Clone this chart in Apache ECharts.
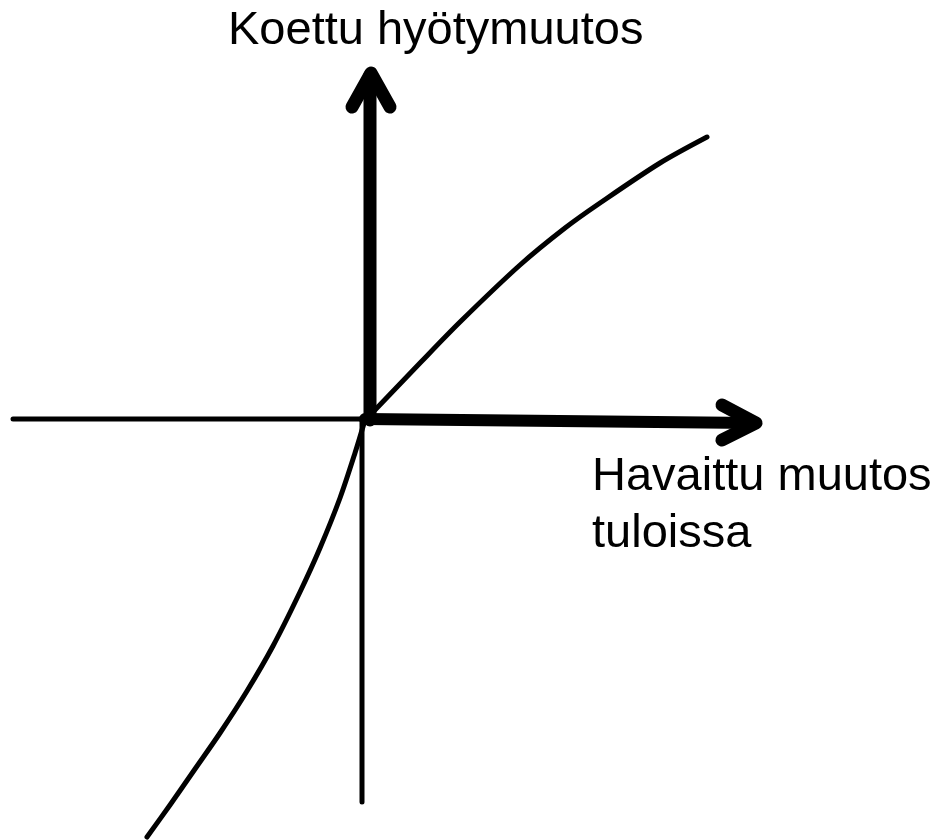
<!DOCTYPE html>
<html>
<head>
<meta charset="utf-8">
<script src="https://cdn.jsdelivr.net/npm/echarts@6/dist/echarts.min.js"></script>
<style>
  html, body { margin: 0; padding: 0; background: #fff; }
  #chart { width: 938px; height: 840px; }
</style>
</head>
<body>
<div id="chart"></div>
<script>
// curve (origin = where the axes cross)
var lossX = [-2.18, -1.95, -1.70, -1.45, -1.18, -0.92, -0.65, -0.45, -0.25, -0.10, 0];
var lossY = [-4.17, -3.85, -3.49, -3.13, -2.71, -2.26, -1.72, -1.28, -0.78, -0.33, 0];
var gainX = [0, 0.10, 0.55, 0.95, 1.55, 2.00, 2.35, 2.95, 3.42];
var gainY = [0, 0.10, 0.57, 0.98, 1.55, 1.92, 2.17, 2.57, 2.83];

// axis arms and arrow heads
var yUpX = [0.05, 0.05];
var yUpY = [0, 3.45];
var yDownX = [-0.03, -0.03];
var yDownY = [0, -3.82];
var xLeftX = [-3.52, 0];
var xLeftY = [0.01, 0.01];
var xRightX = [0, 3.88];
var xRightY = [0.01, -0.03];
var upHeadX = [-0.13, 0.06, 0.25];
var upHeadY = [3.13, 3.47, 3.13];
var rightHeadX = [3.57, 3.91, 3.57];
var rightHeadY = [0.15, -0.03, -0.20];

var yTitle = 'Koettu hyötymuutos';
var xTitle = ['Havaittu muutos', 'tuloissa'];

function zip(xs, ys) {
  var out = [];
  for (var i = 0; i < xs.length; i++) out.push([xs[i], ys[i]]);
  return out;
}

function stroke(xs, ys, w, smooth) {
  return {
    type: 'line',
    data: zip(xs, ys),
    smooth: smooth ? 0.3 : false,
    showSymbol: false,
    silent: true,
    animation: false,
    lineStyle: { color: '#000', width: w, cap: 'round', join: 'round' }
  };
}

var chart = echarts.init(document.getElementById('chart'));

var font = '"Liberation Sans", Arial, sans-serif';

var option = {
  backgroundColor: '#fff',
  grid: { left: 0, right: 0, top: 0, bottom: 0 },
  xAxis: { type: 'value', min: -3.65, max: 5.73, show: false },
  yAxis: { type: 'value', min: -4.2, max: 4.2, show: false },
  series: [
    stroke(xLeftX, xLeftY, 5),
    stroke(yDownX, yDownY, 5),
    stroke(yUpX, yUpY, 13),
    stroke(xRightX, xRightY, 12),
    stroke(upHeadX, upHeadY, 13),
    stroke(rightHeadX, rightHeadY, 13),
    stroke(lossX, lossY, 5, true),
    stroke(gainX, gainY, 5, true)
  ],
  graphic: [
    {
      type: 'text', left: 228, top: 8,
      style: { text: yTitle, font: '47px ' + font, fill: '#000' }
    },
    {
      type: 'text', left: 592, top: 454,
      style: { text: xTitle[0], font: '47px ' + font, fill: '#000' }
    },
    {
      type: 'text', left: 592, top: 511,
      style: { text: xTitle[1], font: '47px ' + font, fill: '#000' }
    }
  ]
};

chart.setOption(option);
</script>
</body>
</html>
